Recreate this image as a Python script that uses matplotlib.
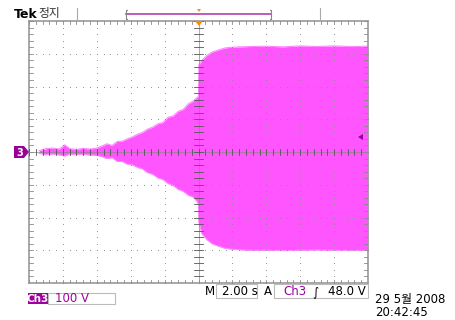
import matplotlib
matplotlib.use("Agg")
import matplotlib.pyplot as plt
from matplotlib.patches import Polygon, Rectangle
import numpy as np

time_s = [-9.4, -9.0, -8.6, -8.2, -7.9, -7.6, -7.2, -6.8, -6.4, -6.0,
          -5.7, -5.4, -5.1, -4.8, -4.5, -4.2, -3.9, -3.6, -3.3, -3.0,
          -2.7, -2.4, -2.1, -1.8, -1.5, -1.2, -0.9, -0.6, -0.3, -0.1,
          0.0, 0.02, 0.2, 0.5, 0.8, 1.2, 1.6, 2.0, 3.0, 4.0,
          5.0, 6.0, 7.0, 8.0, 9.0, 10.0]
upper_v = [4, 10, 12, 9, 22, 10, 8, 11, 9, 12,
           18, 25, 20, 32, 33, 40, 46, 54, 60, 70,
           76, 86, 90, 106, 110, 124, 130, 147, 156, 166,
           170, 265, 280, 295, 305, 312, 318, 320, 322, 323,
           321, 324, 322, 324, 322, 323]
lower_v = [-4, -8, -6, -9, -12, -6, -8, -7, -9, -10,
           -14, -20, -17, -29, -29, -37, -39, -47, -52, -63,
           -68, -79, -84, -96, -102, -114, -120, -132, -138, -150,
           -160, -215, -250, -268, -280, -288, -294, -297, -300, -300,
           -301, -300, -299, -300, -301, -300]

volts_per_div = 100
sec_per_div = 2.0
trigger_level_v = 48.0
title_left = "Tek"
status_word = "정지"
scale_label = "100 V"
channel_label = "Ch3"
timebase_label = "2.00 s"
trigger_label = "48.0 V"
date_label = "29 5월 2008"
clock_label = "20:42:45"

# ---------------- figure ----------------
W, H = 455, 320
fig = plt.figure(figsize=(W / 100, H / 100), dpi=100)
fam = ["DejaVu Sans", "Noto Sans CJK KR"]

L, R, T, B = 29, 368, 21, 283
ax = fig.add_axes([L / W, 1 - B / H, (R - L) / W, (B - T) / H])
ax.set_xlim(-5 * sec_per_div, 5 * sec_per_div)
ax.set_ylim(-4 * volts_per_div, 4 * volts_per_div)
ax.set_xticks([]); ax.set_yticks([])
for s in ax.spines.values():
    s.set_color("#9a9a9a"); s.set_linewidth(1.2)

trace = "#ff55ff"
ax.fill_between(time_s, lower_v, upper_v, color=trace, lw=0, zorder=2)
ax.plot(time_s, upper_v, color="#ff88ff", lw=0.8, zorder=2)
ax.plot(time_s, lower_v, color="#ff88ff", lw=0.8, zorder=2)

# graticule
gcol = "#8a8a8a"
xmaj = np.arange(-4, 5) * sec_per_div
ymaj = np.arange(-3, 4) * volts_per_div
xmin_ = np.arange(-25, 26) * sec_per_div / 5
ymin_ = np.arange(-20, 21) * volts_per_div / 5
for x in xmaj:
    ax.scatter(np.full_like(ymin_, x), ymin_, s=0.6, color=gcol, lw=0, zorder=3)
for y in ymaj:
    ax.scatter(xmin_, np.full_like(xmin_, y), s=0.6, color=gcol, lw=0, zorder=3)
# center cross ticks
tx = 0.012 * 800
ax.plot([-10, 10], [0, 0], color=gcol, lw=0.5, zorder=3)
ax.plot([0, 0], [-400, 400], color=gcol, lw=0.5, zorder=3)
for x in xmin_:
    ax.plot([x, x], [-tx, tx], color="#555555", lw=0.6, zorder=3)
    ax.plot([x, x], [400, 400 - tx], color=gcol, lw=0.6, zorder=3)
    ax.plot([x, x], [-400, -400 + tx], color=gcol, lw=0.6, zorder=3)
ty = 0.012 * 20
for y in ymin_:
    ax.plot([-ty, ty], [y, y], color="#555555", lw=0.6, zorder=3)
    ax.plot([-10, -10 + ty], [y, y], color=gcol, lw=0.6, zorder=3)
    ax.plot([10, 10 - ty], [y, y], color=gcol, lw=0.6, zorder=3)

# ---------------- overlay for screen annotations ----------------
ov = fig.add_axes([0, 0, 1, 1], zorder=5)
ov.set_xlim(0, W); ov.set_ylim(H, 0); ov.axis("off")
purple = "#a000a0"

ov.text(14, 14, title_left, fontsize=9, fontweight="bold", family=fam,
        ha="left", va="center", color="black")
ov.text(38, 14, status_word, fontsize=8.5, family=fam, ha="left", va="center", color="#333333")
ov.plot([77, 77], [8, 20], color="#aaaaaa", lw=0.8)
ov.plot([320, 320], [8, 20], color="#aaaaaa", lw=0.8)
ov.plot([126, 271], [14, 14], color="#b040b0", lw=1.2)
ov.plot([127, 126, 126, 127], [10, 10, 19, 19], color="#888888", lw=0.8)
ov.plot([270, 271, 271, 270], [10, 10, 19, 19], color="#888888", lw=0.8)
ov.add_patch(Polygon([[197, 9], [201, 9], [199, 12]], closed=True, color="#ff8c00", lw=0))
ov.add_patch(Polygon([[195, 21], [203, 21], [199, 26]], closed=True, color="#ff8c00", lw=0))

# channel marker
ov.add_patch(Polygon([[14, 146], [24, 146], [29, 152], [24, 158], [14, 158]],
                     closed=True, color="#990099", lw=0))
ov.text(19.5, 152.5, "3", fontsize=7, fontweight="bold", color="white",
        ha="center", va="center", family=fam)
# trigger level arrow
ov.add_patch(Polygon([[358, 137], [363, 134], [363, 140]], closed=True, color="#990099", lw=0))

# bottom status
fs = 8.5
ov.text(205, 291.5, "M", fontsize=fs, family=fam, ha="left", va="center")
ov.add_patch(Rectangle((216, 284), 41, 14, fill=False, ec="#bbbbbb", lw=0.8))
ov.text(222, 291.5, timebase_label, fontsize=fs, family=fam, ha="left", va="center")
ov.text(264, 291.5, "A", fontsize=fs, family=fam, ha="left", va="center")
ov.add_patch(Rectangle((274, 284), 94, 14, fill=False, ec="#bbbbbb", lw=0.8))
ov.text(283, 291.5, channel_label, fontsize=fs, family=fam, ha="left", va="center", color=purple)
ov.text(312, 291.5, "∫", fontsize=fs, family=fam, ha="left", va="center")
ov.text(366, 291.5, trigger_label, fontsize=fs, family=fam, ha="right", va="center")

ov.add_patch(Rectangle((28, 293), 20, 11, color=purple, lw=0))
ov.text(38, 298.5, channel_label, fontsize=7.5, family=fam, ha="center", va="center",
        color="white", fontweight="bold")
ov.add_patch(Rectangle((48, 293), 67, 11, fill=False, ec="#bbbbbb", lw=0.8))
ov.text(55, 298.5, scale_label, fontsize=fs, family=fam, ha="left", va="center", color=purple)

ov.text(375, 300, date_label, fontsize=fs, family=fam, ha="left", va="center")
ov.text(375, 312.5, clock_label, fontsize=fs, family=fam, ha="left", va="center")

fig.savefig("out.png", dpi=100)
